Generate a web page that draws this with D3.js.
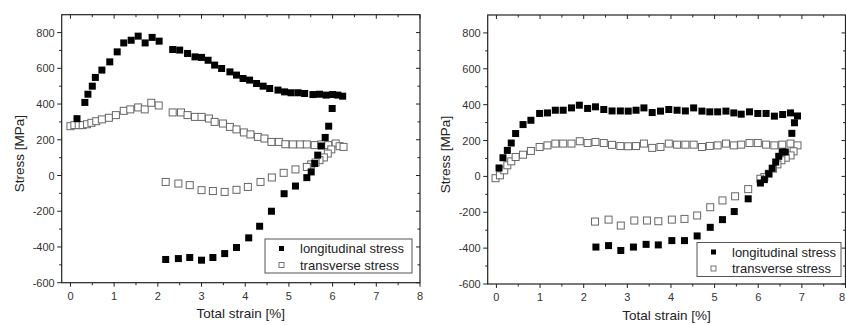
<!DOCTYPE html>
<html><head><meta charset="utf-8">
<script src="https://cdn.jsdelivr.net/npm/d3@7"></script>
<style>body{margin:0;background:#fff}svg{display:block}</style>
</head><body>
<script>
// ---------- DATA ----------
const xTicks = [0,1,2,3,4,5,6,7,8];
const yTicks = [-600,-400,-200,0,200,400,600,800];
const seriesNames = ["longitudinal stress","transverse stress"];

// Left panel
const leftLongX = [0.15,0.33,0.40,0.50,0.57,0.72,0.90,1.07,1.22,1.39,1.55,1.71,1.87,2.03,
  2.34,2.50,2.68,2.85,3.00,3.15,3.30,3.46,3.65,3.80,3.95,4.10,4.26,4.41,4.56,4.75,4.90,5.05,5.21,5.36,5.55,5.70,5.85,6.00,6.12,6.23,
  5.99,5.91,5.83,5.74,5.66,5.59,5.51,5.41,5.15,4.89,4.60,4.33,4.08,3.80,3.53,3.26,3.00,2.73,2.47,2.18];
const leftLongY = [318,409,455,500,549,590,636,692,742,757,780,742,773,752,
  705,702,683,664,661,645,618,599,580,562,543,534,515,500,487,478,468,463,463,459,453,455,450,453,450,444,
  375,276,213,165,114,67,20,-12,-59,-102,-200,-284,-349,-403,-437,-459,-474,-459,-465,-470];
const leftTransX = [0.00,0.09,0.19,0.28,0.38,0.48,0.59,0.72,0.88,1.04,1.22,1.37,1.55,1.70,1.85,2.02,
  2.34,2.53,2.68,2.85,3.00,3.17,3.30,3.49,3.65,3.80,3.97,4.12,4.29,4.44,4.60,4.77,4.92,5.09,5.26,5.41,5.59,5.74,5.90,6.07,6.16,6.25,
  5.97,5.89,5.80,5.70,5.61,5.51,5.41,5.15,4.88,4.61,4.35,4.06,3.80,3.53,3.26,3.00,2.73,2.47,2.18];
const leftTransY = [276,282,282,282,287,295,304,314,323,338,362,370,381,370,407,392,
  353,353,338,328,328,319,300,291,272,258,241,230,216,207,188,188,175,174,174,174,170,174,170,179,164,160,
  146,123,101,86,73,62,48,34,15,-11,-36,-64,-80,-92,-87,-82,-54,-45,-36];

// Right panel
const rightLongX = [0.06,0.15,0.25,0.34,0.44,0.61,0.79,0.99,1.17,1.35,1.53,1.72,1.90,2.09,2.27,2.46,2.65,2.84,3.02,3.20,3.38,3.57,3.76,
  3.95,4.14,4.33,4.52,4.71,4.89,5.07,5.26,5.44,5.61,5.80,5.99,6.18,6.37,6.56,6.74,6.90,
  6.83,6.77,6.62,6.55,6.47,6.40,6.32,6.24,6.14,6.05,5.77,5.45,5.18,4.90,4.60,4.31,4.02,3.71,3.43,3.14,2.85,2.57,2.28];
const rightLongY = [47,104,145,186,239,289,313,351,354,369,369,382,397,379,388,373,365,365,364,369,382,356,364,
  373,369,365,382,364,360,360,364,354,347,360,351,351,336,345,354,337,
  299,240,136,136,112,80,45,15,-18,-37,-125,-196,-241,-284,-332,-358,-358,-382,-379,-394,-413,-386,-394];
const rightTransX = [-0.02,0.08,0.18,0.25,0.34,0.44,0.61,0.79,0.99,1.17,1.35,1.53,1.72,1.91,2.09,2.27,2.46,2.65,2.84,3.02,3.20,3.38,3.57,3.76,
  3.95,4.14,4.33,4.52,4.71,4.89,5.07,5.26,5.44,5.61,5.80,5.99,6.18,6.37,6.55,6.74,6.90,
  6.81,6.74,6.63,6.53,6.44,6.34,6.24,6.14,6.05,5.77,5.47,5.18,4.90,4.60,4.31,4.02,3.71,3.45,3.16,2.85,2.57,2.26];
const rightTransY = [-10,6,34,62,84,108,121,142,164,173,183,183,183,196,186,192,186,176,169,168,169,183,159,164,
  183,177,177,177,164,170,173,183,173,177,186,186,177,173,177,183,173,
  140,117,104,90,67,43,15,-4,-13,-71,-111,-134,-172,-218,-237,-241,-250,-246,-246,-274,-241,-252];

// ---------- LAYOUT ----------
const W = 846, H = 325;
const svg = d3.select("body").append("svg").attr("width", W).attr("height", H);
const FONT = "Liberation Sans, Arial, sans-serif";
const panels = [
  {px:[61.7,420], py:[282.7,14.7], lx:[leftLongX,leftLongY], tx:[leftTransX,leftTransY],
   ytitleX:19, xtitleY:318, legend:{x:265,y:239,w:147,h:34}},
  {px:[487.7,845.5], py:[284,15], lx:[rightLongX,rightLongY], tx:[rightTransX,rightTransY],
   ytitleX:445, xtitleY:320, legend:{x:697,y:242.5,w:144,h:34}}
];

panels.forEach(p => {
  const x = d3.scaleLinear().domain([-0.2,8]).range(p.px);
  const y = d3.scaleLinear().domain([-600,900]).range(p.py);
  const g = svg.append("g");
  const [x0,x1] = p.px, [y0,y1] = p.py;
  const axisCol = "#222";

  g.append("rect").attr("x",x0).attr("y",y1).attr("width",x1-x0).attr("height",y0-y1)
    .attr("fill","none").attr("stroke",axisCol).attr("stroke-width",1.2);

  const xMinor = d3.range(0.5,8,1);
  const yMinor = d3.range(-500,900,200);
  const tg = g.append("g").attr("stroke",axisCol).attr("stroke-width",1);
  xTicks.forEach(v=>{
    tg.append("line").attr("x1",x(v)).attr("x2",x(v)).attr("y1",y0).attr("y2",y0+4);
    tg.append("line").attr("x1",x(v)).attr("x2",x(v)).attr("y1",y1).attr("y2",y1+4);
  });
  xMinor.forEach(v=>{
    tg.append("line").attr("x1",x(v)).attr("x2",x(v)).attr("y1",y0).attr("y2",y0+2.5);
    tg.append("line").attr("x1",x(v)).attr("x2",x(v)).attr("y1",y1).attr("y2",y1+2.5);
  });
  yTicks.forEach(v=>{
    tg.append("line").attr("x1",x0-4.5).attr("x2",x0).attr("y1",y(v)).attr("y2",y(v));
    tg.append("line").attr("x1",x1-4).attr("x2",x1).attr("y1",y(v)).attr("y2",y(v));
  });
  yMinor.forEach(v=>{
    tg.append("line").attr("x1",x0-2.5).attr("x2",x0).attr("y1",y(v)).attr("y2",y(v));
    tg.append("line").attr("x1",x1-2.5).attr("x2",x1).attr("y1",y(v)).attr("y2",y(v));
  });

  g.selectAll(".xl").data(xTicks).enter().append("text")
    .attr("x",d=>Math.min(x(d), W-1)).attr("y",y0+17)
    .attr("text-anchor",d=>x(d)+4>W ? "end" : "middle")
    .attr("font-family",FONT).attr("font-size",11).attr("fill","#333").text(d=>d);
  g.selectAll(".yl").data(yTicks).enter().append("text")
    .attr("x",x0-7).attr("y",d=>y(d)+4).attr("text-anchor","end")
    .attr("font-family",FONT).attr("font-size",11).attr("fill","#333").text(d=>d);

  g.append("text").attr("transform",`translate(${p.ytitleX+5},${(y0+y1)/2 + 5}) rotate(-90)`)
    .attr("text-anchor","middle").attr("font-family",FONT).attr("font-size",13.5).attr("fill","#222")
    .text("Stress [MPa]");
  g.append("text").attr("x",(x0+x1)/2).attr("y",p.xtitleY).attr("text-anchor","middle")
    .attr("font-family",FONT).attr("font-size",13.5).attr("fill","#222").text("Total strain [%]");

  const s = 7;
  const clip = "clip"+Math.round(p.px[0]);
  svg.append("clipPath").attr("id",clip).append("rect")
    .attr("x",x0).attr("y",y1).attr("width",x1-x0).attr("height",y0-y1);
  const mg = g.append("g").attr("clip-path",`url(#${clip})`);
  mg.selectAll(".t").data(d3.range(p.tx[0].length)).enter().append("rect")
    .attr("x",i=>x(p.tx[0][i])-s/2).attr("y",i=>y(p.tx[1][i])-s/2)
    .attr("width",s).attr("height",s).attr("fill","#fff").attr("stroke","#666").attr("stroke-width",1);
  mg.selectAll(".l").data(d3.range(p.lx[0].length)).enter().append("rect")
    .attr("x",i=>x(p.lx[0][i])-s/2).attr("y",i=>y(p.lx[1][i])-s/2)
    .attr("width",s).attr("height",s).attr("fill","#000");

  const L = p.legend;
  const lg = g.append("g");
  lg.append("rect").attr("x",L.x).attr("y",L.y).attr("width",L.w).attr("height",L.h)
    .attr("fill","#fff").attr("stroke","#555").attr("stroke-width",1);
  const ls = 5;
  lg.append("rect").attr("x",L.x+16.5-ls/2).attr("y",L.y+9.5-ls/2).attr("width",ls).attr("height",ls).attr("fill","#000");
  lg.append("rect").attr("x",L.x+16.5-ls/2).attr("y",L.y+26-ls/2).attr("width",ls).attr("height",ls)
    .attr("fill","#fff").attr("stroke","#666").attr("stroke-width",0.9);
  lg.append("text").attr("x",L.x+35).attr("y",L.y+14).attr("font-family",FONT).attr("font-size",13)
    .attr("fill","#222").text(seriesNames[0]);
  lg.append("text").attr("x",L.x+35).attr("y",L.y+30.5).attr("font-family",FONT).attr("font-size",13)
    .attr("fill","#222").text(seriesNames[1]);
});
</script>
</body></html>
